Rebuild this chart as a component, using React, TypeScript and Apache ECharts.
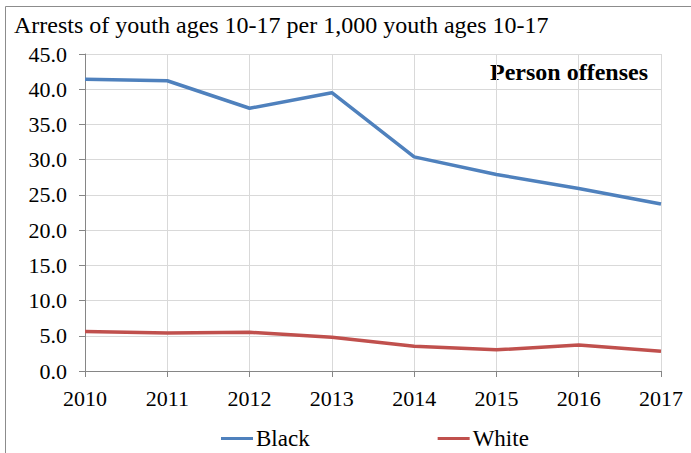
import React, { useEffect, useRef } from "react";
import * as echarts from "echarts";

// Arrest rates per 1,000 youth ages 10-17, person offenses
const years = ["2010", "2011", "2012", "2013", "2014", "2015", "2016", "2017"];
const blackRates = [41.4, 41.2, 37.3, 39.5, 30.4, 27.9, 25.9, 23.7];
const whiteRates = [5.6, 5.4, 5.5, 4.8, 3.5, 3.0, 3.7, 2.8];
const seriesNames = ["Black", "White"];

const FONT = "'Liberation Serif', 'DejaVu Serif', serif";

export default function App() {
  const ref = useRef<HTMLDivElement>(null);

  useEffect(() => {
    if (!ref.current) return;
    const chart = echarts.init(ref.current, undefined, { renderer: "svg" });
    chart.setOption({
      animation: false,
      backgroundColor: "#ffffff",
      title: {
        text: "Arrests of youth ages 10-17 per 1,000 youth ages 10-17",
        left: 14,
        top: 13,
        padding: 0,
        textStyle: { fontFamily: FONT, fontSize: 24, fontWeight: "normal", color: "#000" },
      },
      graphic: [
        {
          type: "rect",
          shape: { x: 5.5, y: 6.5, width: 720, height: 480 },
          style: { fill: "none", stroke: "#8c8c8c", lineWidth: 1 },
          silent: true,
        },
        {
          type: "text",
          x: 648,
          y: 72,
          style: {
            text: "Person offenses",
            align: "right",
            verticalAlign: "middle",
            fontFamily: FONT,
            fontSize: 24,
            fontWeight: "bold",
            fill: "#000",
          },
        },
      ],
      legend: {
        data: seriesNames,
        left: 221,
        top: 427,
        padding: 0,
        icon: "rect",
        itemWidth: 32,
        itemHeight: 3,
        itemGap: 128,
        textStyle: { fontFamily: FONT, fontSize: 23, color: "#000", padding: [0, 0, 0, -2] },
      },
      grid: { left: 85, right: 30, top: 54, bottom: 82 },
      xAxis: {
        type: "category",
        data: years,
        boundaryGap: false,
        axisLine: { lineStyle: { color: "#868686", width: 1 } },
        axisTick: { show: true, length: 6, lineStyle: { color: "#868686" } },
        axisLabel: { fontFamily: FONT, fontSize: 22, color: "#000", margin: 16 },
        splitLine: { show: true, lineStyle: { color: "#d9d9d9", width: 1 } },
      },
      yAxis: {
        type: "value",
        min: 0,
        max: 45,
        interval: 5,
        axisLine: { show: true, lineStyle: { color: "#868686", width: 1 } },
        axisTick: { show: true, length: 6, lineStyle: { color: "#868686" } },
        axisLabel: {
          fontFamily: FONT,
          fontSize: 22,
          color: "#000",
          margin: 18,
          formatter: (v: number) => v.toFixed(1),
        },
        splitLine: { show: true, lineStyle: { color: "#d9d9d9", width: 1 } },
      },
      series: [
        {
          name: seriesNames[0],
          type: "line",
          data: blackRates,
          showSymbol: false,
          symbol: "none",
          lineStyle: { color: "#4f81bd", width: 3.5 },
          itemStyle: { color: "#4f81bd" },
        },
        {
          name: seriesNames[1],
          type: "line",
          data: whiteRates,
          showSymbol: false,
          symbol: "none",
          lineStyle: { color: "#c0504d", width: 3.5 },
          itemStyle: { color: "#c0504d" },
        },
      ],
    });
    return () => chart.dispose();
  }, []);

  return (
    <div
      ref={ref}
      style={{ position: "absolute", left: 0, top: 0, width: 691, height: 453 }}
    />
  );
}
